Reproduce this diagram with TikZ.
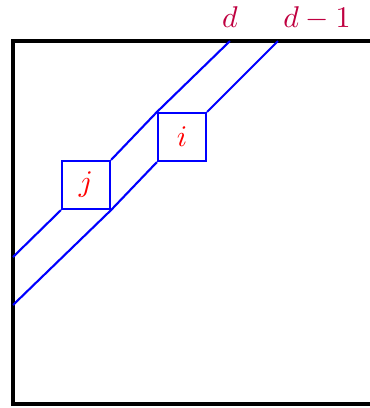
\documentclass[tikz,border=0pt]{standalone}
\begin{document}
\begin{tikzpicture}[x=0.3333pt,y=-0.3333pt,
  frame/.style={line width=1.35pt,black},
  wire/.style={line width=0.7pt,blue},
  cell/.style={draw=blue,line width=0.7pt,minimum size=16pt,inner sep=0pt,text=red},
  lab/.style={text=purple,anchor=base,inner sep=0pt}]
\useasboundingbox (0,0) rectangle (369,408);
\draw[frame] (385,41) -- (13,41) -- (13,404) -- (385,404);
\node[cell] (j) at (86,185) {$j$};
\node[cell] (i) at (182,137) {$i$};
\coordinate (la) at (13,257);
\coordinate (lb) at (13,305);
\coordinate (ta) at (230,41);
\coordinate (tb) at (278,41);
\draw[wire] (la) -- (j.south west);
\draw[wire] (j.north east) -- (i.north west) -- (ta);
\draw[wire] (lb) -- (j.south east) -- (i.south west);
\draw[wire] (i.north east) -- (tb);
\node[lab] (ld) at (230,27) {$d$};
\node[lab] (ld1) at (317,27) {$d-1$};
\end{tikzpicture}
\end{document}
